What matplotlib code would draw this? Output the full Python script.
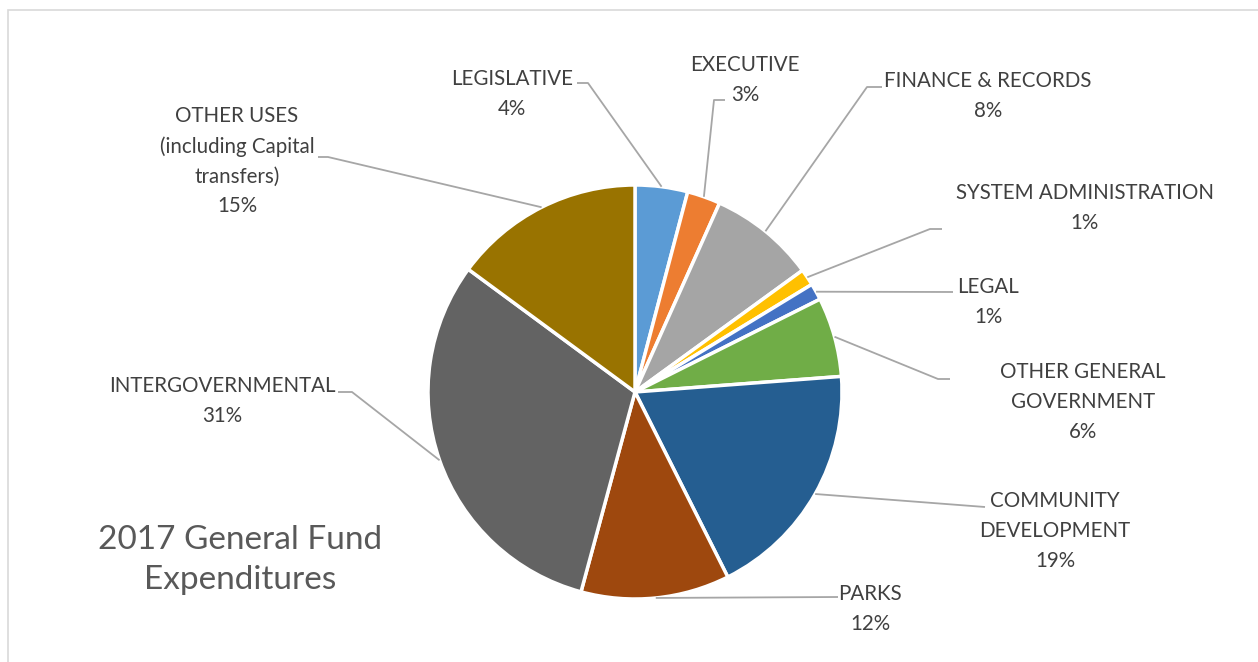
import numpy as np
import matplotlib
matplotlib.use("Agg")
import matplotlib.pyplot as plt

# ── data ──────────────────────────────────────────────────────────────────────
CATEGORIES = ["LEGISLATIVE", "EXECUTIVE", "FINANCE & RECORDS",
              "SYSTEM ADMINISTRATION", "LEGAL", "OTHER GENERAL\nGOVERNMENT",
              "COMMUNITY\nDEVELOPMENT", "PARKS", "INTERGOVERNMENTAL",
              "OTHER USES\n(including Capital\ntransfers)"]
SHARES = [4.1, 2.6, 8.3, 1.3, 1.3, 6.2, 18.8, 11.6, 30.9, 14.9]
COLORS = ["#5B9BD5", "#ED7D31", "#A5A5A5", "#FFC000", "#4472C4",
          "#70AD47", "#255E91", "#9E480E", "#636363", "#997300"]
TITLE = "2017 General Fund\nExpenditures"

# ── layout (image pixels, y measured from top) ────────────────────────────────
W, H = 1258, 662
CENTER = (635, 392)
RADIUS = 207
LABEL_POS = [(512, 94), (745, 80), (988, 96), (1085, 208), (988, 302),
             (1083, 402), (1055, 531), (870, 609), (222, 401), (237, 161)]
# elbow points of each leader (from slice edge -> elbow -> end)
LEADER_PTS = [
    [(588, 83), (577, 83)],
    [(714, 100), (725, 100)],
    [(867, 87), (882, 87)],
    [(930, 229), (942, 229)],
    [(953, 292)],
    [(938, 379), (950, 379)],
    [(985, 507)],
    [(838, 597)],
    [(352, 392), (338, 392)],
    [(328, 157), (318, 157)],
]

TEXT_COLOR = "#404040"
LINE_COLOR = "#A6A6A6"
plt.rcParams["font.family"] = ["Lato", "DejaVu Sans"]


def img(x, y):
    return x, H - y


fig = plt.figure(figsize=(W / 100, H / 100), dpi=100)
ax = fig.add_axes([0, 0, 1, 1])

ax.pie(SHARES, colors=COLORS, center=img(*CENTER), radius=RADIUS,
       startangle=90, counterclock=False,
       wedgeprops=dict(edgecolor="white", linewidth=2.5))

# pie() resets the limits, so set them afterwards
ax.set_xlim(0, W)
ax.set_ylim(0, H)
ax.set_aspect("equal")
ax.axis("off")

# chart frame (only top and left edges visible in the crop)
ax.add_patch(plt.Rectangle(img(8, 700), 1400, 690, fill=False,
                           edgecolor="#D9D9D9", linewidth=1.2))

total = sum(SHARES)
cum = 0.0
for name, share, pos, pts in zip(CATEGORIES, SHARES, LABEL_POS, LEADER_PTS):
    mid = (cum + share / 2) / total * 2 * np.pi
    cum += share
    sx = CENTER[0] + RADIUS * np.sin(mid)
    sy = CENTER[1] - RADIUS * np.cos(mid)
    path = [(sx, sy)] + pts
    xs = [p[0] for p in path]
    ys = [H - p[1] for p in path]
    ax.plot(xs, ys, color=LINE_COLOR, linewidth=1.3, zorder=1,
            solid_capstyle="butt")
    pct = f"{round(share / total * 100):.0f}%"
    ax.text(*img(*pos), f"{name}\n{pct}", ha="center", va="center",
            fontsize=14.8, color=TEXT_COLOR, linespacing=1.62)

ax.text(*img(240, 560), TITLE, ha="center", va="center",
        fontsize=24, color="#595959", linespacing=1.44)

fig.savefig("out.png", dpi=100)
